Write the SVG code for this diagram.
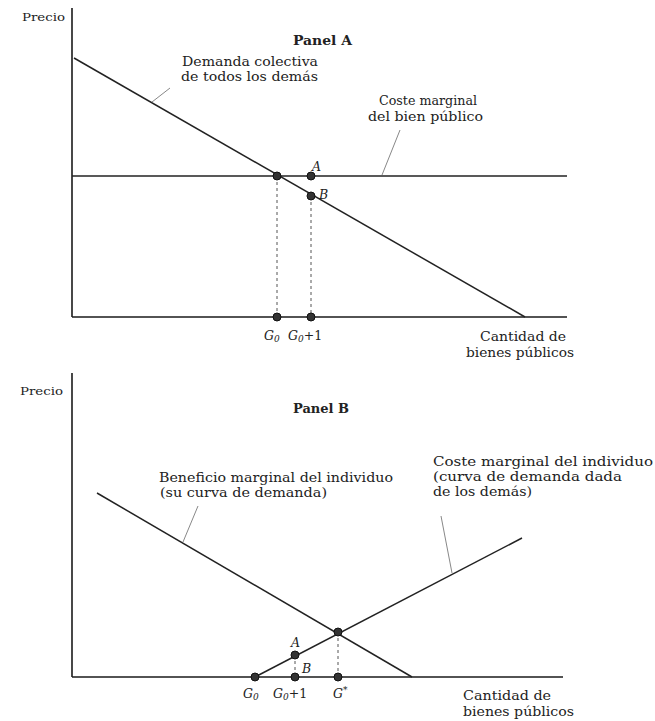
<svg xmlns="http://www.w3.org/2000/svg" width="655" height="721" viewBox="0 0 655 721">
<style>
.ax{stroke:#1a1a1a;stroke-width:1.6;fill:none}
.cv{stroke:#222;stroke-width:1.5;fill:none}
.ds{stroke:#555;stroke-width:1;stroke-dasharray:3,3;fill:none}
.ld{stroke:#888;stroke-width:1;fill:none}
.dot{fill:#333;stroke:#111;stroke-width:1}
text{font-family:"DejaVu Serif","Liberation Serif",serif;fill:#222;font-size:12.5px}
.sm{font-size:11px}
.b{font-weight:bold;font-size:12.5px}
.it{font-style:italic}
</style>
<rect width="655" height="721" fill="#fff"/>
<g id="panelA">
<g id="axesA">
<line class="ax" x1="72" y1="8" x2="72" y2="317"/>
<line class="ax" x1="72" y1="317" x2="567" y2="317"/>
<text x="22" y="21" class="sm" textLength="43" lengthAdjust="spacingAndGlyphs">Precio</text>
<text x="480" y="341" textLength="86" lengthAdjust="spacingAndGlyphs">Cantidad de</text>
<text x="466" y="357" textLength="108" lengthAdjust="spacingAndGlyphs">bienes públicos</text>
<text x="293" y="45" class="b" textLength="59" lengthAdjust="spacingAndGlyphs">Panel A</text>
</g>
<g id="connectorsA">
<line class="cv" x1="74" y1="58" x2="525" y2="317"/>
<line class="cv" x1="72" y1="176" x2="567" y2="176"/>
<line class="ds" x1="277" y1="176" x2="277" y2="317"/>
<line class="ds" x1="311" y1="196" x2="311" y2="317"/>
<line class="ld" x1="170" y1="88" x2="152" y2="102"/>
<line class="ld" x1="400" y1="130" x2="382" y2="175"/>
</g>
<g id="labelsA">
<text x="182" y="66" textLength="136" lengthAdjust="spacingAndGlyphs">Demanda colectiva</text>
<text x="181" y="81" textLength="137" lengthAdjust="spacingAndGlyphs">de todos los demás</text>
<text x="379" y="105" textLength="98" lengthAdjust="spacingAndGlyphs">Coste marginal</text>
<text x="368" y="121" textLength="115" lengthAdjust="spacingAndGlyphs">del bien público</text>
</g>
<g id="dotsA">
<circle class="dot" cx="277" cy="176" r="4"/>
<circle class="dot" cx="311" cy="176" r="4"/>
<circle class="dot" cx="311" cy="196" r="4"/>
<circle class="dot" cx="277" cy="317" r="4"/>
<circle class="dot" cx="311" cy="317" r="4"/>
<text x="312" y="171" class="it">A</text>
<text x="319" y="199" class="it">B</text>
<text x="264" y="340" class="it">G<tspan font-size="9" dy="2">0</tspan></text>
<text x="288" y="340" class="it">G<tspan font-size="9" dy="2">0</tspan><tspan dy="-2" font-style="normal">+1</tspan></text>
</g>
</g>
<g id="panelB">
<g id="axesB">
<line class="ax" x1="72" y1="373" x2="72" y2="677"/>
<line class="ax" x1="72" y1="677" x2="563" y2="677"/>
<text x="20" y="395" class="sm" textLength="43" lengthAdjust="spacingAndGlyphs">Precio</text>
<text x="463" y="700" textLength="88" lengthAdjust="spacingAndGlyphs">Cantidad de</text>
<text x="463" y="716" textLength="111" lengthAdjust="spacingAndGlyphs">bienes públicos</text>
<text x="293" y="413" class="b" textLength="56" lengthAdjust="spacingAndGlyphs">Panel B</text>
</g>
<g id="connectorsB">
<line class="cv" x1="97" y1="493" x2="412" y2="677"/>
<line class="cv" x1="255" y1="677" x2="522" y2="538"/>
<line class="ds" x1="338" y1="632" x2="338" y2="677"/>
<line class="ds" x1="295" y1="655" x2="295" y2="677"/>
<line class="ld" x1="198" y1="506" x2="183" y2="542"/>
<line class="ld" x1="441" y1="516" x2="452" y2="573"/>
</g>
<g id="labelsB">
<text x="159" y="482" textLength="234" lengthAdjust="spacingAndGlyphs">Beneficio marginal del individuo</text>
<text x="160" y="497" textLength="167" lengthAdjust="spacingAndGlyphs">(su curva de demanda)</text>
<text x="433" y="466" textLength="220" lengthAdjust="spacingAndGlyphs">Coste marginal del individuo</text>
<text x="433" y="481" textLength="189" lengthAdjust="spacingAndGlyphs">(curva de demanda dada</text>
<text x="433" y="496" textLength="99" lengthAdjust="spacingAndGlyphs">de los demás)</text>
</g>
<g id="dotsB">
<circle class="dot" cx="255" cy="677" r="4"/>
<circle class="dot" cx="295" cy="655" r="4"/>
<circle class="dot" cx="295" cy="677" r="4"/>
<circle class="dot" cx="338" cy="632" r="4"/>
<circle class="dot" cx="338" cy="677" r="4"/>
<text x="291" y="647" class="it">A</text>
<text x="302" y="673" class="it">B</text>
<text x="243" y="698" class="it">G<tspan font-size="9" dy="2">0</tspan></text>
<text x="273" y="698" class="it">G<tspan font-size="9" dy="2">0</tspan><tspan dy="-2" font-style="normal">+1</tspan></text>
<text x="333" y="698" class="it">G<tspan font-size="9" dy="-5">*</tspan></text>
</g>
</g>
</svg>
